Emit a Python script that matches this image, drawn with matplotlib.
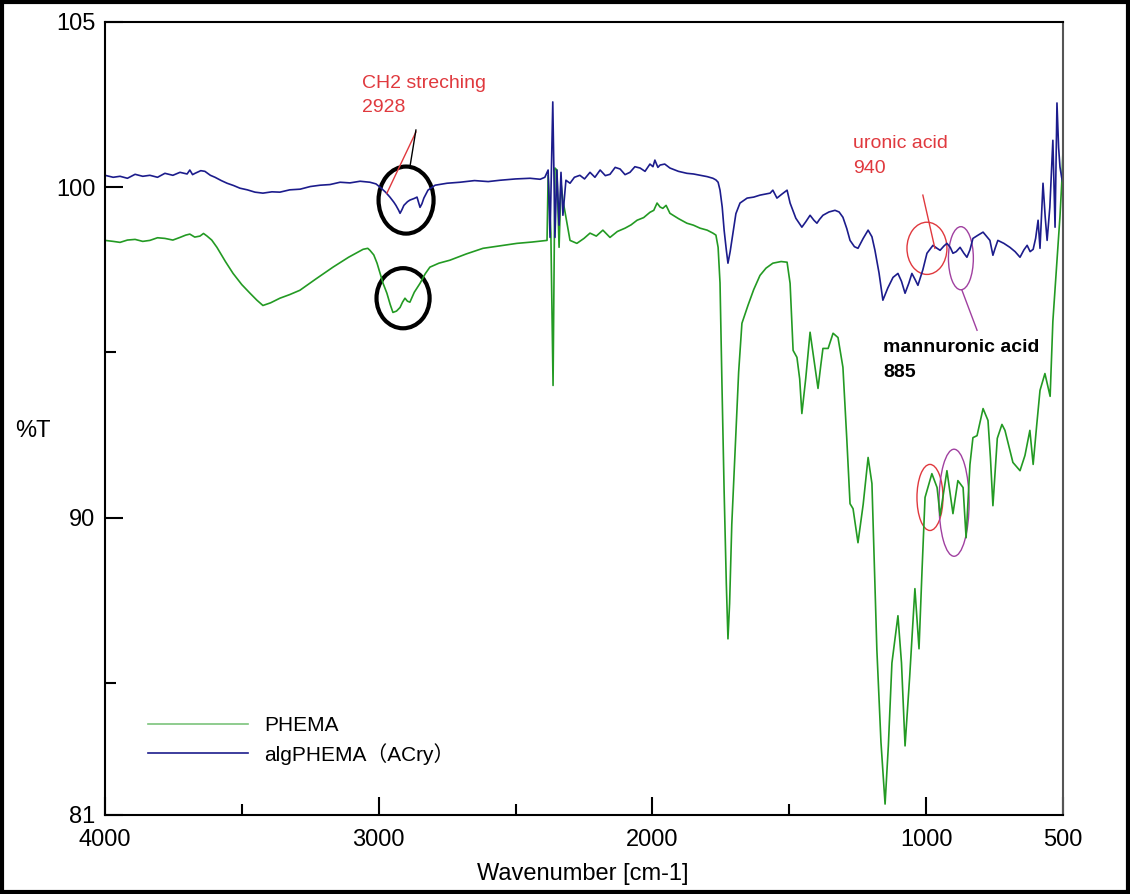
import numpy as np
import matplotlib
matplotlib.use("Agg")
import matplotlib.pyplot as plt
from matplotlib.patches import Ellipse, Rectangle

plt.rcParams['font.family'] = ['Liberation Sans', 'Noto Sans CJK SC', 'DejaVu Sans']

# algPHEMA (ACry) spectrum
alg_wn = [4000, 3970, 3945, 3918, 3890, 3862, 3836, 3808, 3781, 3752, 3726, 3700,
          3690, 3680, 3671, 3650, 3635, 3615, 3598, 3575, 3554, 3530, 3507, 3480,
          3452, 3423, 3390, 3361, 3325, 3287, 3250, 3214, 3178, 3141, 3105, 3068,
          3032, 3010, 2995, 2975, 2959, 2945, 2937, 2927, 2922, 2915, 2908, 2895,
          2886, 2870, 2860, 2853, 2849, 2842, 2835, 2820, 2794, 2750, 2703, 2650,
          2600, 2557, 2500, 2447, 2410, 2393, 2381, 2374, 2364, 2356, 2349, 2341,
          2334, 2327, 2316, 2301, 2285, 2265, 2248, 2228, 2210, 2191, 2172, 2155,
          2136, 2118, 2100, 2082, 2064, 2045, 2027, 2009, 1998, 1991, 1980, 1972,
          1955, 1936, 1905, 1874, 1850, 1826, 1800, 1779, 1768, 1760, 1753, 1745,
          1738, 1730, 1724, 1716, 1706, 1695, 1680, 1654, 1630, 1607, 1570, 1560,
          1545, 1527, 1508, 1497, 1476, 1454, 1440, 1424, 1410, 1399, 1390, 1377,
          1355, 1333, 1318, 1304, 1290, 1278, 1262, 1249, 1230, 1212, 1198, 1187,
          1172, 1158, 1140, 1121, 1103, 1090, 1077, 1063, 1052, 1040, 1030, 1012,
          997, 975, 960, 949, 935, 924, 912, 902, 890, 876, 862, 851, 840, 829, 810,
          792, 778, 767, 756, 748, 738, 716, 694, 675, 657, 643, 631, 620, 609, 600,
          591, 584, 573, 565, 558, 548, 537, 529, 522, 516, 511, 505, 500]
alg_t = [100.36, 100.30, 100.33, 100.27, 100.39, 100.33, 100.36, 100.30, 100.42,
         100.36, 100.45, 100.40, 100.52, 100.38, 100.42, 100.50, 100.48, 100.36,
         100.30, 100.20, 100.12, 100.05, 99.97, 99.92, 99.85, 99.82, 99.86, 99.85,
         99.92, 99.94, 100.02, 100.06, 100.08, 100.15, 100.13, 100.18, 100.15,
         100.10, 100.00, 99.85, 99.70, 99.55, 99.45, 99.30, 99.21, 99.32, 99.45,
         99.56, 99.61, 99.66, 99.70, 99.50, 99.39, 99.50, 99.67, 99.91, 100.06,
         100.12, 100.15, 100.20, 100.17, 100.21, 100.25, 100.27, 100.24, 100.30,
         100.52, 98.48, 102.58, 98.48, 100.52, 98.85, 100.45, 99.15, 100.21,
         100.12, 100.30, 100.36, 100.25, 100.45, 100.30, 100.52, 100.35, 100.39,
         100.60, 100.55, 100.38, 100.45, 100.62, 100.58, 100.48, 100.70, 100.62,
         100.82, 100.60, 100.67, 100.70, 100.58, 100.48, 100.42, 100.40, 100.36,
         100.32, 100.27, 100.22, 100.15, 99.91, 99.40, 98.70, 98.10, 97.70, 98.05,
         98.60, 99.20, 99.52, 99.67, 99.70, 99.76, 99.82, 99.91, 99.67, 99.79,
         99.91, 99.52, 99.06, 98.79, 98.95, 99.15, 99.00, 98.91, 99.02, 99.15,
         99.25, 99.30, 99.25, 99.09, 98.75, 98.39, 98.20, 98.15, 98.45, 98.70,
         98.50, 98.09, 97.40, 96.58, 96.95, 97.27, 97.39, 97.15, 96.79, 97.10,
         97.39, 97.20, 97.03, 97.50, 98.00, 98.24, 98.15, 98.09, 98.22, 98.30,
         98.18, 98.00, 98.05, 98.18, 98.00, 97.88, 98.10, 98.45, 98.55, 98.64,
         98.50, 98.39, 97.94, 98.15, 98.39, 98.30, 98.18, 98.05, 97.88, 98.10,
         98.24, 98.05, 98.12, 98.45, 99.00, 98.15, 100.12, 99.10, 98.39, 99.40,
         101.42, 98.79, 102.55, 101.20, 100.61, 100.30, 100.12]

# PHEMA spectrum
phema_wn = [4000, 3970, 3945, 3918, 3890, 3862, 3836, 3808, 3781, 3752, 3726, 3705,
            3690, 3672, 3653, 3640, 3627, 3610, 3591, 3560, 3532, 3500, 3470, 3445,
            3423, 3395, 3361, 3325, 3288, 3230, 3167, 3110, 3057, 3040, 3032, 3018,
            3006, 2995, 2984, 2970, 2958, 2948, 2935, 2922, 2913, 2904, 2895, 2886,
            2870, 2849, 2830, 2813, 2780, 2740, 2680, 2619, 2560, 2495, 2440, 2385,
            2381, 2371, 2363, 2356, 2349, 2341, 2334, 2327, 2301, 2276, 2250, 2228,
            2205, 2181, 2155, 2128, 2100, 2078, 2056, 2032, 2009, 1995, 1983, 1972,
            1962, 1950, 1936, 1905, 1874, 1850, 1826, 1800, 1779, 1768, 1760, 1753,
            1746, 1738, 1730, 1724, 1718, 1710, 1698, 1685, 1673, 1651, 1630, 1607,
            1585, 1560, 1530, 1508, 1497, 1486, 1472, 1462, 1454, 1440, 1424, 1410,
            1395, 1385, 1377, 1358, 1340, 1322, 1304, 1290, 1278, 1267, 1249, 1230,
            1212, 1198, 1180, 1165, 1150, 1138, 1125, 1103, 1090, 1077, 1060, 1041,
            1026, 1015, 1004, 979, 960, 949, 924, 902, 884, 865, 854, 840, 829, 814,
            792, 774, 765, 756, 740, 723, 712, 683, 657, 639, 621, 609, 596, 584, 566,
            547, 537, 522, 511, 504, 500]
phema_t = [98.39, 98.36, 98.33, 98.40, 98.42, 98.36, 98.39, 98.47, 98.45, 98.40,
           98.48, 98.55, 98.58, 98.49, 98.52, 98.60, 98.52, 98.40, 98.18, 97.75,
           97.39, 97.05, 96.79, 96.58, 96.42, 96.50, 96.64, 96.75, 96.88, 97.22,
           97.58, 97.88, 98.12, 98.15, 98.09, 97.95, 97.70, 97.40, 97.09, 96.79,
           96.45, 96.21, 96.25, 96.36, 96.52, 96.64, 96.55, 96.52, 96.82, 97.09,
           97.38, 97.58, 97.70, 97.79, 97.98, 98.15, 98.22, 98.30, 98.34, 98.39,
           100.36, 98.61, 94.00, 100.58, 100.52, 98.18, 100.12, 99.61, 98.39, 98.30,
           98.45, 98.61, 98.52, 98.70, 98.48, 98.66, 98.76, 98.86, 99.00, 99.08,
           99.24, 99.30, 99.52, 99.40, 99.36, 99.45, 99.21, 99.05, 98.91, 98.85,
           98.76, 98.70, 98.61, 98.55, 98.18, 97.10, 94.06, 90.80, 88.00, 86.33,
           87.40, 89.80, 92.03, 94.40, 95.88, 96.42, 96.90, 97.33, 97.55, 97.70,
           97.75, 97.73, 97.09, 95.06, 94.85, 94.20, 93.15, 94.20, 95.61, 94.80,
           93.91, 94.60, 95.12, 95.12, 95.58, 95.45, 94.55, 92.40, 90.42, 90.27,
           89.24, 90.40, 91.82, 91.03, 86.00, 83.20, 81.33, 83.10, 85.60, 87.03,
           85.60, 83.09, 85.20, 87.85, 86.03, 88.40, 90.61, 91.33, 90.91, 90.06,
           91.42, 90.12, 91.12, 90.91, 89.39, 91.60, 92.42, 92.48, 93.30, 92.94,
           91.80, 90.36, 92.40, 92.82, 92.64, 91.67, 91.42, 91.88, 92.64, 91.61,
           92.80, 93.85, 94.36, 93.67, 95.94, 97.76, 99.12, 100.21, 101.12]

x_major = [4000, 3000, 2000, 1000, 500]
x_minor = [3500, 2500, 1500]
y_major = [105, 100, 90, 81]
y_minor = [95, 85]

fig = plt.figure(figsize=(11.3, 8.94), dpi=100)
ax = fig.add_axes([0.0929, 0.0884, 0.8478, 0.887])

ax.plot(phema_wn, phema_t, color='#239a23', lw=1.2, label='PHEMA')
ax.plot(alg_wn, alg_t, color='#1c1c8c', lw=1.2, label='algPHEMA（ACry）')

ax.set_xlim(4000, 500)
ax.set_ylim(81, 105)
ax.set_xticks(x_major)
ax.set_xticks(x_minor, minor=True)
ax.set_yticks(y_major)
ax.set_yticks(y_minor, minor=True)
ax.tick_params(which='both', direction='in', labelsize=17, width=1.5, pad=7)
ax.tick_params(axis='x', which='both', pad=10)
ax.tick_params(which='major', length=13)
ax.tick_params(which='minor', length=8)
for s in ax.spines.values():
    s.set_linewidth(1.5)
ax.spines['right'].set_color('#555555')

ax.set_xlabel('Wavenumber [cm-1]', fontsize=17)
ax.xaxis.set_label_coords(0.499, -0.060)
ax.set_ylabel('%T', fontsize=17, rotation=0)
ax.yaxis.set_label_coords(-0.075, 0.47)

leg = ax.legend(loc='lower left', bbox_to_anchor=(0.025, 0.04), frameon=False,
                fontsize=15, handlelength=4.8, handletextpad=0.8, labelspacing=0.35)
leg.get_lines()[0].set_color('#7cc47c')

red = '#e0393e'
purple = '#a040a0'

# CH2 stretching marks
ax.text(3061, 103.15, 'CH2 streching', color=red, fontsize=14, va='center')
ax.text(3061, 102.42, '2928', color=red, fontsize=14, va='center')
ax.plot([2970, 2864], [99.82, 101.67], color=red, lw=1)
ax.plot([2886, 2864], [100.61, 101.73], color='black', lw=1)
ax.add_patch(Ellipse((2900, 99.61), 201, 2.03, fill=False, ec='black', lw=3))
ax.add_patch(Ellipse((2911, 96.64), 194, 1.82, fill=False, ec='black', lw=3))

# uronic / mannuronic acid marks
ax.text(1267, 101.33, 'uronic acid', color=red, fontsize=14, va='center')
ax.text(1267, 100.58, '940', color=red, fontsize=14, va='center')
ax.plot([1012, 968], [99.76, 98.15], color=red, lw=1)
ax.add_patch(Ellipse((997, 98.15), 146, 1.58, fill=False, ec=red, lw=1))
ax.add_patch(Ellipse((873, 97.85), 91, 1.91, fill=False, ec=purple, lw=1))
ax.plot([869, 814], [96.88, 95.67], color=purple, lw=1)
ax.text(1158, 95.15, 'mannuronic acid', color='black', fontsize=14,
        fontweight='bold', va='center')
ax.text(1158, 94.39, '885', color='black', fontsize=14, fontweight='bold', va='center')
ax.add_patch(Ellipse((986, 90.61), 95, 2.0, fill=False, ec=red, lw=1))
ax.add_patch(Ellipse((898, 90.45), 110, 3.24, fill=False, ec=purple, lw=1))

fig.patches.append(Rectangle((0.002, 0.002), 0.996, 0.996, transform=fig.transFigure,
                             fill=False, ec='black', lw=3))

fig.savefig('out.png', dpi=100)
